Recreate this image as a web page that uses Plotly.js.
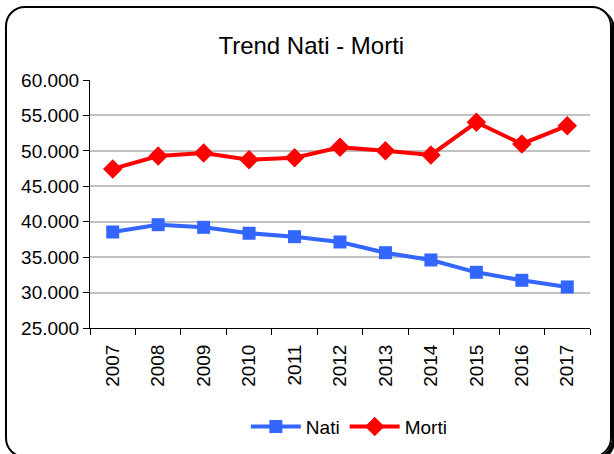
<!DOCTYPE html>
<html>
<head>
<meta charset="utf-8">
<script src="https://cdn.plot.ly/plotly-3.0.1.min.js"></script>
<style>
  html, body { margin: 0; padding: 0; background: #ffffff; }
  #wrap { position: relative; width: 614px; height: 454px; overflow: hidden; }
  #chart { position: absolute; left: 0; top: 0; width: 614px; height: 454px; }
  #frame { position: absolute; left: 5px; top: 6px; width: 603px; height: 448px;
           border: 2px solid #000; border-radius: 20px; pointer-events: none;
           box-shadow: 3px 3px 0 #000; }
</style>
</head>
<body>
<div id="wrap">
  <div id="chart"></div>
  <div id="frame"></div>
</div>
<script>
const years = ['2007','2008','2009','2010','2011','2012','2013','2014','2015','2016','2017'];
const nati  = [38550, 39580, 39210, 38370, 37890, 37140, 35630, 34600, 32860, 31730, 30790];
const morti = [47450, 49270, 49700, 48750, 49030, 50500, 50030, 49420, 54030, 50970, 53550];
const yTicks = [25000, 30000, 35000, 40000, 45000, 50000, 55000, 60000];

const font = 'Liberation Sans, Arial, sans-serif';

const data = [
  { x: years, y: nati, name: 'Nati', type: 'scatter', mode: 'lines+markers',
    line: { color: '#3366ff', width: 4 },
    marker: { symbol: 'square', size: 13, color: '#3366ff' } },
  { x: years, y: morti, name: 'Morti', type: 'scatter', mode: 'lines+markers',
    line: { color: '#ff0000', width: 4 },
    marker: { symbol: 'diamond', size: 15, color: '#ff0000' } }
];

const layout = {
  width: 614, height: 454,
  margin: { l: 90, r: 24, t: 80, b: 126, autoexpand: false },
  paper_bgcolor: '#ffffff', plot_bgcolor: '#ffffff',
  separators: ',.',
  showlegend: true,
  title: { text: 'Trend Nati - Morti', font: { family: font, size: 24, color: '#000' },
           x: 0.507, xref: 'container', xanchor: 'center', y: 0.9, yref: 'container', yanchor: 'middle' },
  font: { family: font, size: 19, color: '#000' },
  xaxis: {
    type: 'category', range: [-0.5, 10.5], automargin: false,
    showline: true, linecolor: '#000', linewidth: 1,
    ticks: 'outside', ticklen: 6, tickcolor: '#000', tickson: 'boundaries',
    tickangle: -90, showgrid: false, zeroline: false, ticklabelstandoff: 8,
    tickfont: { family: font, size: 19, color: '#000' }
  },
  yaxis: {
    range: [25000, 60000], tickvals: yTicks, tickformat: ',d', automargin: false,
    showline: true, linecolor: '#000', linewidth: 1,
    ticks: 'outside', ticklen: 6, tickcolor: '#000',
    showgrid: true, gridcolor: '#c0c0c0', gridwidth: 2, zeroline: false,
    tickfont: { family: font, size: 19, color: '#000' }
  },
  legend: {
    orientation: 'h', x: 0.569, xref: 'container', xanchor: 'center',
    y: 0.06, yref: 'container', yanchor: 'middle',
    font: { family: font, size: 19, color: '#000' },
    bgcolor: 'rgba(0,0,0,0)', itemwidth: 50, tracegroupgap: 0
  }
};

Plotly.newPlot('chart', data, layout, { staticPlot: true, displayModeBar: false });
</script>
</body>
</html>
